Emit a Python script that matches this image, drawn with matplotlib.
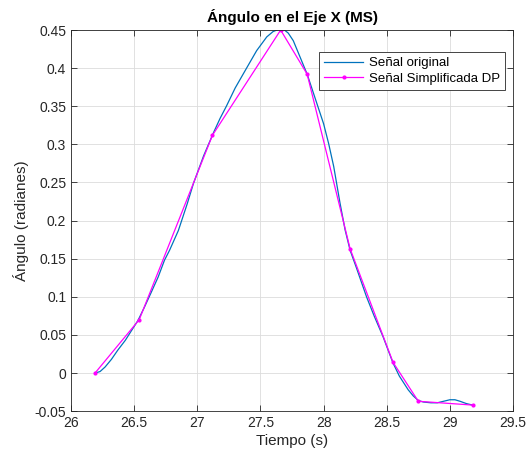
import matplotlib.pyplot as plt
import numpy as np
from matplotlib.ticker import FormatStrFormatter

plt.rcParams['font.family'] = ['Liberation Sans', 'DejaVu Sans']
plt.rcParams['axes.unicode_minus'] = False

# original signal
t_orig = [26.19, 26.23, 26.27, 26.32, 26.37, 26.43, 26.48, 26.53, 26.58, 26.63,
          26.69, 26.74, 26.78, 26.85, 26.92, 26.97, 27.05, 27.13, 27.18, 27.23,
          27.30, 27.39, 27.47, 27.55, 27.60, 27.63, 27.66, 27.69, 27.72, 27.76,
          27.81, 27.87, 27.91, 27.95, 28.00, 28.04, 28.08, 28.13, 28.17, 28.21,
          28.26, 28.34, 28.40, 28.47, 28.55, 28.60, 28.67, 28.71, 28.75, 28.79,
          28.85, 28.90, 28.95, 29.00, 29.04, 29.08, 29.13, 29.18]
y_orig = [0.0, 0.002, 0.008, 0.018, 0.030, 0.043, 0.056, 0.069, 0.086, 0.104,
          0.126, 0.148, 0.161, 0.187, 0.222, 0.249, 0.285, 0.316, 0.334, 0.350,
          0.374, 0.400, 0.423, 0.441, 0.448, 0.450, 0.451, 0.450, 0.446, 0.436,
          0.416, 0.392, 0.372, 0.352, 0.327, 0.301, 0.271, 0.223, 0.188, 0.161,
          0.138, 0.100, 0.075, 0.048, 0.013, -0.004, -0.022, -0.030, -0.036, -0.038,
          -0.039, -0.039, -0.037, -0.035, -0.035, -0.037, -0.040, -0.042]

# Douglas-Peucker simplified points
t_dp = [26.19, 26.54, 27.12, 27.66, 27.87, 28.21, 28.55, 28.75, 29.18]
y_dp = [0.0, 0.07, 0.312, 0.45, 0.392, 0.163, 0.014, -0.037, -0.042]

fig = plt.figure(figsize=(5.3, 4.62), dpi=100)
ax = fig.add_axes([0.134, 0.110, 0.834, 0.825])

ax.plot(t_orig, y_orig, color='#0072BD', linewidth=0.9, label='Señal original')
ax.plot(t_dp, y_dp, color='#FF00FF', linewidth=0.9, marker='.', markersize=4,
        label='Señal Simplificada DP')

ax.set_xlim(26, 29.5)
ax.set_ylim(-0.05, 0.45)
ax.set_xticks(np.arange(26, 29.51, 0.5))
ax.set_yticks(np.arange(-0.05, 0.451, 0.05))
ax.xaxis.set_major_formatter(FormatStrFormatter('%g'))
ax.yaxis.set_major_formatter(plt.FuncFormatter(lambda v, p: f'{round(v, 2):g}'))

ax.grid(True, color='#dcdcdc', linewidth=0.6)
ax.set_axisbelow(True)
ax.tick_params(direction='in', length=4, width=0.6, labelsize=10,
               colors='#262626', top=True, right=True)
for s in ax.spines.values():
    s.set_linewidth(0.6)
    s.set_color('#262626')

ax.set_title('Ángulo en el Eje X (MS)', fontsize=11, fontweight='bold', pad=6)
ax.set_xlabel('Tiempo (s)', fontsize=11, color='#262626', labelpad=3)
ax.set_ylabel('Ángulo (radianes)', fontsize=11, color='#262626', labelpad=4)

leg = ax.legend(loc='upper right', bbox_to_anchor=(0.997, 0.96), fontsize=9.5,
                fancybox=False, framealpha=1, edgecolor='#262626',
                borderpad=0.4, handlelength=3.0, handletextpad=0.4,
                labelspacing=0.25)
leg.get_frame().set_linewidth(0.6)

fig.savefig('out.png', dpi=100)
